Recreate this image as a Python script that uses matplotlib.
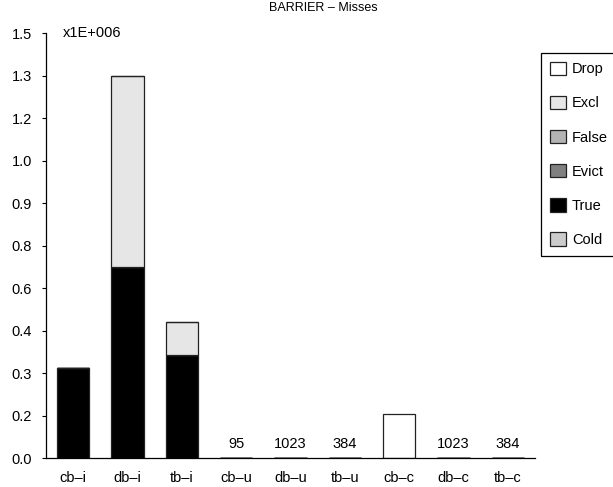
import matplotlib
matplotlib.use("Agg")
import matplotlib.pyplot as plt
import numpy as np

plt.rcParams['font.family'] = ['Liberation Sans', 'DejaVu Sans']

# categories and stacked miss counts (bottom to top)
cats = ['cb\u2013i', 'db\u2013i', 'tb\u2013i', 'cb\u2013u', 'db\u2013u',
        'tb\u2013u', 'cb\u2013c', 'db\u2013c', 'tb\u2013c']
cold = [0, 0, 0, 0, 0, 0, 0, 0, 0]
true = [318000, 674000, 365000, 0, 1023, 384, 0, 1023, 384]
evict = [0, 0, 0, 0, 0, 0, 0, 0, 0]
false = [0, 0, 0, 0, 0, 0, 0, 0, 0]
excl = [0, 675000, 117000, 95, 0, 0, 0, 0, 0]
drop = [0, 0, 0, 0, 0, 0, 156000, 0, 0]

series = [('Cold', cold, '#cccccc'), ('True', true, '#000000'),
          ('Evict', evict, '#808080'), ('False', false, '#b3b3b3'),
          ('Excl', excl, '#e6e6e6'), ('Drop', drop, '#ffffff')]

yticks = np.linspace(0, 1.5e6, 11)
ylabels = ['0.0', '0.2', '0.3', '0.4', '0.6', '0.8', '0.9', '1.0', '1.2', '1.3', '1.5']

fs = 10.5

fig = plt.figure(figsize=(6.13, 4.87), dpi=100)
ax = fig.add_axes([46/613, 1 - 458.3/487, (535-46)/613, (458.3-33)/487])

x = np.arange(len(cats))
bottom = np.zeros(len(cats))
handles = []
for name, vals, col in series:
    vals = np.array(vals, dtype=float)
    b = ax.bar(x, vals, 0.6, bottom=bottom, color=col, edgecolor='#222222',
               linewidth=0.9, label=name)
    handles.append(b)
    bottom += vals

# small totals get a number on top
for xi, tot in zip(x, bottom):
    if 0 < tot < 0.01e6:
        ax.annotate(str(int(tot)), (xi, tot), xytext=(0, 5), textcoords='offset points',
                    ha='center', va='bottom', fontsize=fs)

ax.set_xlim(-0.5, len(cats) - 0.5)
ax.set_ylim(0, 1.5e6)
ax.set_yticks(yticks)
ax.set_yticklabels(ylabels, fontsize=fs)
ax.set_xticks(x)
ax.set_xticklabels(cats, fontsize=fs)
ax.tick_params(axis='y', length=3, pad=7, width=0.8)
ax.tick_params(axis='x', length=0, pad=9)
for s in ['top', 'right']:
    ax.spines[s].set_visible(False)
ax.spines['left'].set_linewidth(0.9)
ax.spines['bottom'].set_linewidth(0.9)

ax.text(0.034, 1.0, 'x1E+006', transform=ax.transAxes, fontsize=fs, va='center', ha='left')
fig.text(323/613, 1 - 8/487, 'BARRIER \u2013 Misses', fontsize=9, ha='center', va='center')

leg = fig.legend(handles[::-1], [s[0] for s in series][::-1], loc='upper left',
                 bbox_to_anchor=(541/613, 1 - 52.5/487), fontsize=fs,
                 handlelength=1.1, handleheight=1.05, labelspacing=1.33,
                 handletextpad=0.4, borderpad=0.62, borderaxespad=0,
                 fancybox=False, framealpha=1)
leg.get_frame().set_edgecolor('black')
leg.get_frame().set_linewidth(0.9)

fig.savefig('out.png', dpi=100)
